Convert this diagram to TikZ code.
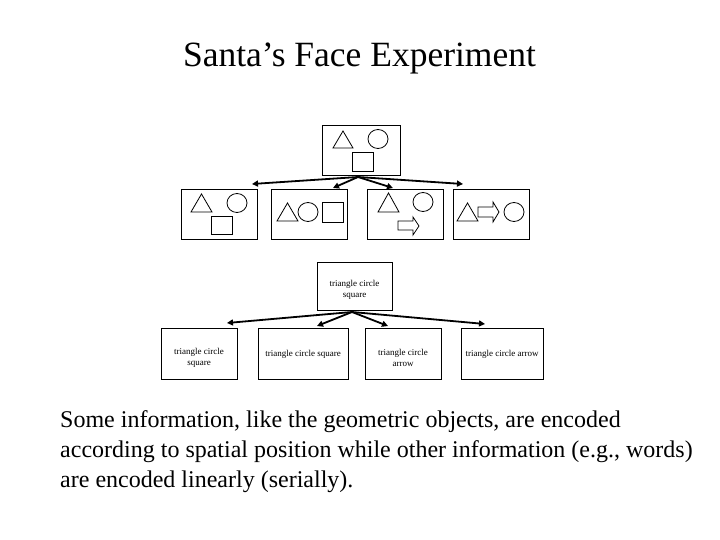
\documentclass[tikz,border=0pt]{standalone}
\usepackage{fontspec}
\setmainfont{Liberation Serif}
\usetikzlibrary{arrows.meta}
\begin{document}
\begin{tikzpicture}[x=1pt,y=-1pt,
  pbox/.style={draw,line width=0.9pt,minimum width=76pt,minimum height=50pt,inner sep=0pt},
  tbox/.style={draw,line width=0.9pt,minimum height=51pt,inner sep=0pt},
  lbl/.style={font=\fontsize{9}{11}\selectfont,align=center,yshift=-4pt},
  shp/.style={draw,line width=0.8pt},
  arr/.style={line width=1.8pt,-{Triangle[length=6pt,width=6pt]}}]
\useasboundingbox (0,0) rectangle (720,540);
% title
\node[anchor=base,font=\fontsize{35.5}{40}\selectfont] (title) at (359.5,67) {Santa’s Face Experiment};
% pictorial tree
\node[pbox,minimum width=78pt] (top) at (361,150) {};
\node[pbox] (b1) at (219,214) {};
\node[pbox] (b2) at (309.5,214) {};
\node[pbox] (b3) at (405.5,214) {};
\node[pbox] (b4) at (491,214) {};
% shapes in top box
\draw[shp] (333,148) -- (353,148) -- (343,131) -- cycle;
\draw[shp] (378,139) ellipse [x radius=10,y radius=9.5];
\draw[shp] (352,152) rectangle (373,171);
% b1
\draw[shp] (191,212) -- (212,212) -- (201.5,194) -- cycle;
\draw[shp] (237,203) ellipse [x radius=10,y radius=9.5];
\draw[shp] (211,216) rectangle (232,234);
% b2
\draw[shp] (277,221) -- (298,221) -- (287.5,203) -- cycle;
\draw[shp] (308,212) ellipse [x radius=10,y radius=9.5];
\draw[shp] (322,202) rectangle (343,222);
% b3
\draw[shp] (378,212) -- (399,212) -- (388.5,193) -- cycle;
\draw[shp] (423,202) ellipse [x radius=10,y radius=9.5];
\draw[shp] (398,221) -- (413,221) -- (413,217) -- (419,226) -- (413,235) -- (413,230) -- (398,230) -- cycle;
% b4
\draw[shp] (457,221) -- (478,221) -- (467.5,203) -- cycle;
\draw[shp] (478,207) -- (493,207) -- (493,202) -- (499,212) -- (493,222) -- (493,217) -- (478,217) -- cycle;
\draw[shp] (514,212) ellipse [x radius=10,y radius=9.5];
% arrows
\coordinate (s1) at (358,177);
\coordinate (t1) at (252,184);
\coordinate (t2) at (333,188);
\coordinate (t3) at (393,188);
\coordinate (t4) at (463,184);
\draw[arr] (s1) -- (t1);
\draw[arr] (s1) -- (t2);
\draw[arr] (s1) -- (t3);
\draw[arr] (s1) -- (t4);
% text tree
\node[tbox,minimum width=75pt,minimum height=48pt,label={[lbl]center:{triangle circle\\square}}] (ttop) at (354.5,286) {};
\node[tbox,minimum width=76pt,label={[lbl]center:{triangle circle\\square}}] (c1) at (199,353.5) {};
\node[tbox,minimum width=90pt,label={[lbl,yshift=3pt]center:{triangle circle square}}] (c2) at (303,353.5) {};
\node[tbox,minimum width=76pt,label={[lbl]center:{triangle circle\\arrow}}] (c3) at (403,353.5) {};
\node[tbox,minimum width=82pt,label={[lbl,yshift=3pt]center:{triangle circle arrow}}] (c4) at (502,353.5) {};
\coordinate (s2) at (352,312);
\coordinate (u1) at (227,323);
\coordinate (u2) at (317,326);
\coordinate (u3) at (388,326);
\coordinate (u4) at (485,324);
\draw[arr] (s2) -- (u1);
\draw[arr] (s2) -- (u2);
\draw[arr] (s2) -- (u3);
\draw[arr] (s2) -- (u4);
% body text
\node[anchor=base west,align=left,inner sep=0pt,font=\fontsize{24}{30}\selectfont] (body) at (60,487)
 {Some information, like the geometric objects, are encoded\\
  according to spatial position while other information (e.g., words)\\
  are encoded linearly (serially).};
\end{tikzpicture}
\end{document}
